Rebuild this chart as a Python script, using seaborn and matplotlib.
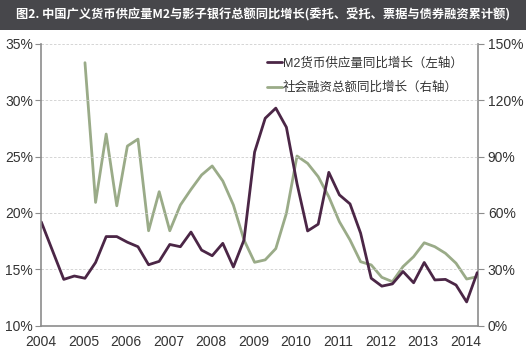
import numpy as np
import pandas as pd
import matplotlib
matplotlib.use("Agg")
import matplotlib.pyplot as plt
import seaborn as sns
from matplotlib.ticker import FuncFormatter

sns.set_style("white")
plt.rcParams['font.family'] = ['Liberation Sans', 'Noto Sans CJK SC', 'DejaVu Sans']

title = "图2. 中国广义货币供应量M2与影子银行总额同比增长(委托、受托、票据与债券融资累计额)"
m2_label = "M2货币供应量同比增长（左轴）"
sf_label = "社会融资总额同比增长（右轴）"

m2_start = 2004.0
m2_values = [19.2, 16.5, 14.1, 14.4, 14.2, 15.6, 17.9, 17.9, 17.4, 17.0, 15.4, 15.7,
             17.2, 17.0, 18.3, 16.7, 16.2, 17.3, 15.2, 17.6, 25.4, 28.4, 29.3, 27.6,
             22.6, 18.4, 19.0, 23.6, 21.6, 20.8, 18.2, 14.2, 13.5, 13.7, 14.8, 13.8,
             15.6, 14.05, 14.1, 13.6, 12.1, 14.7]
sf_start = 2005.0
sf_values = [140, 65.6, 102, 63.8, 95.6, 99.3, 50.5, 71.3, 50.5, 64.2, 72.5, 80.2,
             85, 77, 64.2, 45.6, 33.7, 35, 41, 59.8, 90.3, 86.4, 79.3, 68.6,
             55.3, 45.6, 34, 32.3, 25.7, 23.4, 31.4, 36.7, 44.1, 42, 38.5, 33.2,
             24.8, 26]

m2_df = pd.DataFrame({"t": m2_start + 0.25 * np.arange(len(m2_values)) + np.r_[0, np.full(len(m2_values) - 1, 0.03)],
                      "v": m2_values})
sf_df = pd.DataFrame({"t": sf_start + 0.03 + 0.25 * np.arange(len(sf_values)), "v": sf_values})

fig = plt.figure(figsize=(5.26, 3.57), dpi=100)
ax = fig.add_axes([0.0785, 0.088, 0.9089 - 0.0785, 0.877 - 0.088])
ax2 = ax.twinx()

purple = "#4b2646"
green = "#9aab88"
grid_c = "#cfcfcf"
spine_c = "#8c8c8c"

sns.lineplot(data=sf_df, x="t", y="v", ax=ax2, color=green, linewidth=2.0, label=sf_label, legend=False)
sns.lineplot(data=m2_df, x="t", y="v", ax=ax, color=purple, linewidth=2.0, label=m2_label, legend=False)
ax.set_zorder(ax2.get_zorder() + 1)
ax.patch.set_visible(False)

ax.set_xlim(2004, 2014.3)
ax.set_ylim(10, 35)
ax2.set_ylim(0, 150)
ax.set_yticks([10, 15, 20, 25, 30, 35])
ax2.set_yticks([0, 30, 60, 90, 120, 150])
ax.set_xticks(range(2004, 2015))
ax.yaxis.set_major_formatter(FuncFormatter(lambda v, p: f"{v:.0f}%"))
ax2.yaxis.set_major_formatter(FuncFormatter(lambda v, p: f"{v:.0f}%"))
ax.set_xlabel("")
ax.set_ylabel("")
ax2.set_ylabel("")

for y in [15, 20, 25, 30, 35]:
    ax.axhline(y, color=grid_c, linestyle=(0, (3, 2)), linewidth=0.6, zorder=0)

for a in (ax, ax2):
    for s in a.spines.values():
        s.set_color(spine_c)
        s.set_linewidth(1.2)
    a.spines['top'].set_visible(False)
ax.spines['right'].set_visible(False)
ax2.spines['left'].set_visible(False)
ax2.spines['bottom'].set_visible(False)

ax.tick_params(axis='y', direction='out', length=4, color=spine_c, labelsize=10, labelcolor="#333333", pad=2)
ax.tick_params(axis='x', direction='out', length=4, color=spine_c, labelsize=10, labelcolor="#333333", pad=3)
ax2.tick_params(axis='y', direction='out', length=4, color=spine_c, labelsize=10, labelcolor="#333333", pad=3)

h1, l1 = ax.get_legend_handles_labels()
h2, l2 = ax2.get_legend_handles_labels()
leg = ax.legend(h1 + h2, l1 + l2, loc="upper left", bbox_to_anchor=(0.505, 0.97), frameon=False,
                fontsize=9, handlelength=1.2, handletextpad=0.1, labelspacing=0.95, borderaxespad=0)
for t in leg.get_texts():
    t.set_color("#333333")

fig.patches.append(plt.Rectangle((0, 1 - 30 / 357), 1, 30 / 357, transform=fig.transFigure,
                                 facecolor="#47474b", edgecolor="none", zorder=0))
fig.text(0.5, 1 - 15 / 357, title, ha="center", va="center", color="white", fontsize=8.8,
         fontweight="bold", family=['Noto Sans CJK SC', 'DejaVu Sans'])

fig.savefig("out.png", dpi=100)
